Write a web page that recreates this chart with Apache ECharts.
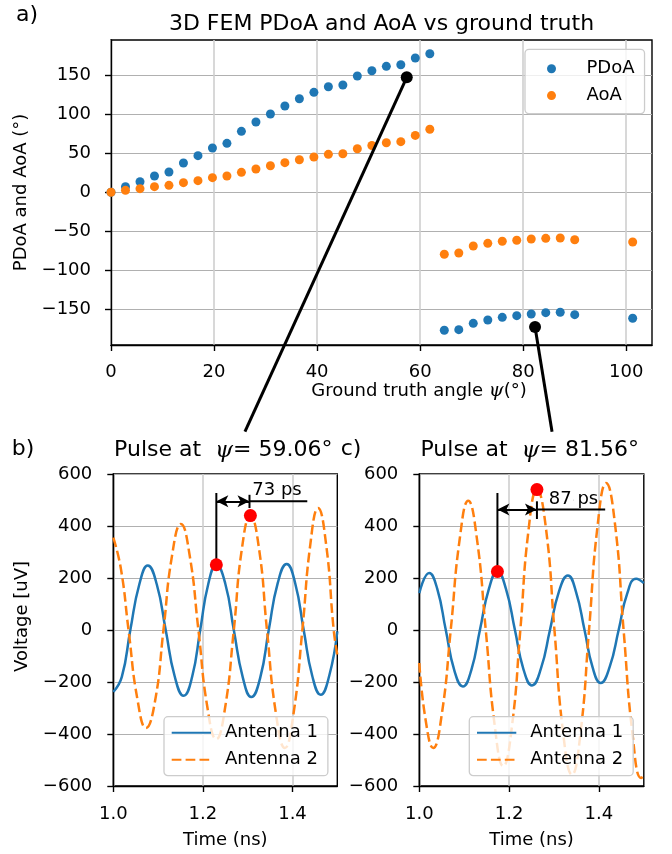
<!DOCTYPE html>
<html><head><meta charset="utf-8">
<script src="https://cdn.jsdelivr.net/npm/echarts@6/dist/echarts.min.js"></script>
<style>html,body{margin:0;padding:0;background:#fff}#c{width:672px;height:854px}</style>
</head><body><div id="c"></div>
<script>
// ---- Panel a data: ground truth angle vs PDoA / AoA ----
const psi  = [0, 2.81, 5.63, 8.44, 11.25, 14.06, 16.88, 19.69, 22.5, 25.31, 28.13, 30.94, 33.75, 36.56, 39.38, 42.19, 45, 47.81, 50.63, 53.44, 56.25, 59.06, 61.88, 64.69, 67.5, 70.31, 73.13, 75.94, 78.75, 81.56, 84.38, 87.19, 90, 101.25];
const pdoa = [0, 7.2, 13.6, 20.9, 26, 37.6, 47, 56.8, 62.8, 78.2, 90.1, 100.4, 110.6, 120, 128.2, 135.4, 137.6, 149.1, 155.9, 161.5, 163.6, 172.2, 177.7, -176.9, -176.1, -168, -163.7, -160.3, -158.2, -156, -154.3, -153.8, -156.9, -161.5];
const aoa  = [0, 2.5, 4.7, 7.2, 8.9, 12.4, 14.9, 18.8, 20.9, 25.6, 29.9, 34.1, 38, 41.8, 45.3, 48.7, 49.5, 55.9, 60, 63.6, 64.9, 73, 80.8, -79.5, -77.8, -68.8, -65.4, -62.8, -61.5, -59.9, -59, -58.6, -60.8, -63.7];
const pickTop = [[57.4, 147.4], [82.3, -172.7]];
const pickEnd = [[26.0, -307], [85.6, -307]];
const topXTicks = [0, 20, 40, 60, 80, 100];
const topYTicks = [-150, -100, -50, 0, 50, 100, 150];

// ---- Panel b: pulse at psi = 59.06 deg ----
const tB1 = [1.000, 1.019, 1.038, 1.058, 1.077, 1.097, 1.117, 1.137, 1.157, 1.176, 1.194, 1.212, 1.230, 1.250, 1.269, 1.289, 1.308, 1.328, 1.347, 1.367, 1.387, 1.406, 1.425, 1.444, 1.463, 1.482, 1.500];
const vB1 = [-238, -180, 0, 175, 248, 176, 0, -178, -253, -180, 0, 177, 251, 178, 0, -182, -258, -183, 0, 180, 254, 180, 0, -176, -249, -176, -5];
const tB2 = [1.000, 1.017, 1.034, 1.054, 1.073, 1.093, 1.112, 1.131, 1.151, 1.170, 1.190, 1.210, 1.230, 1.249, 1.269, 1.287, 1.306, 1.325, 1.343, 1.363, 1.383, 1.402, 1.422, 1.440, 1.457, 1.475, 1.492, 1.500];
const vB2 = [355, 235, 0, -268, -377, -275, 0, 285, 408, 292, 0, -297, -420, -305, 0, 312, 440, 316, 0, -321, -454, -325, 0, 332, 469, 330, 0, -95];
const peaksB = [[1.230, 251], [1.306, 440]];

// ---- Panel c: pulse at psi = 81.56 deg ----
const tC1 = [1.000, 1.022, 1.040, 1.059, 1.078, 1.097, 1.116, 1.135, 1.155, 1.174, 1.193, 1.213, 1.232, 1.251, 1.271, 1.291, 1.311, 1.331, 1.349, 1.368, 1.386, 1.404, 1.424, 1.444, 1.463, 1.483, 1.500];
const vC1 = [142, 219, 158, 0, -155, -217, -153, 0, 158, 225, 158, 0, -151, -213, -148, 0, 148, 210, 147, 0, -144, -204, -142, 0, 140, 197, 180];
const tC2 = [1.000, 1.014, 1.031, 1.050, 1.070, 1.090, 1.109, 1.128, 1.148, 1.168, 1.187, 1.206, 1.225, 1.243, 1.262, 1.282, 1.301, 1.320, 1.340, 1.359, 1.378, 1.397, 1.416, 1.436, 1.455, 1.475, 1.494, 1.500];
const vC2 = [-127, -345, -454, -325, 0, 350, 497, 355, 0, -368, -524, -375, 0, 380, 540, 392, 0, -390, -556, -397, 0, 400, 565, 405, 0, -402, -569, -562];
const peaksC = [[1.174, 225], [1.262, 540]];

const timeTicks = [1.0, 1.2, 1.4];
const voltTicks = [-600, -400, -200, 0, 200, 400, 600];

// annotation geometry in data units
const annB = {x1: 1.230, x2: 1.304, yArrow: 495, tickTop: 520, tickBot: 469, extEnd: 1.433, vTop: 527, label: '73 ps', labelPos: [1.366, 537]};
const annC = {x1: 1.174, x2: 1.262, yArrow: 463, tickTop: 495, tickBot: 427, extEnd: 1.414, vTop: 527, label: '87 ps', labelPos: [1.344, 500]};

const FONT = 'DejaVu Sans';
const BLUE = '#1f77b4', ORANGE = '#ff7f0e';
const minus = v => String(v).replace('-', '\u2212');
const zip = (a, b) => a.map((x, i) => [x, b[i]]);

function mkAxis(o) {
  return {
    type: 'value', gridIndex: o.grid, min: o.min, max: o.max,
    axisLine: {show: true, onZero: false, lineStyle: {color: '#000', width: 1.4}},
    axisTick: {show: true, inside: false, length: 6, customValues: o.ticks, lineStyle: {color: '#000', width: 1.4}},
    axisLabel: {show: true, customValues: o.ticks, formatter: o.fmt, margin: o.margin, color: '#000', fontSize: 18, fontFamily: FONT},
    splitLine: {show: true, lineStyle: {color: o.gridColor || '#b0b0b0', width: o.gridWidth || 1.2}},
    name: o.name, nameLocation: 'middle', nameGap: o.nameGap, nameRotate: o.nameRotate, nameMoveOverlap: false,
    nameTextStyle: Object.assign({color: '#000', fontSize: 18, fontFamily: FONT}, o.nameStyle || {})
  };
}

const gridStyle = {show: true, borderColor: '#000', borderWidth: 1.4, backgroundColor: 'transparent', containLabel: false, outerBoundsMode: 'none'};

function annotSeries(ann, xi, peaks) {
  return [
    {type: 'line', xAxisIndex: xi, yAxisIndex: xi, data: [[ann.x1, peaks[0][1]], [ann.x1, ann.vTop]], symbol: 'none',
     lineStyle: {color: '#000', width: 2}, z: 4, silent: true,
     markLine: {silent: true, symbol: ['arrow', 'arrow'], symbolSize: [9, 12], label: {show: false},
       lineStyle: {color: '#000', width: 2, type: 'solid'}, animation: false,
       data: [[{coord: [ann.x1, ann.yArrow]}, {coord: [ann.x2, ann.yArrow]}]]}},
    {type: 'line', xAxisIndex: xi, yAxisIndex: xi, data: [[ann.x2, ann.tickTop], [ann.x2, ann.tickBot]], symbol: 'none',
     lineStyle: {color: '#000', width: 2}, z: 4, silent: true},
    {type: 'line', xAxisIndex: xi, yAxisIndex: xi, data: [[ann.x2, ann.yArrow], [ann.extEnd, ann.yArrow]], symbol: 'none',
     lineStyle: {color: '#000', width: 2}, z: 4, silent: true},
    {type: 'scatter', xAxisIndex: xi, yAxisIndex: xi, data: [ann.labelPos], symbolSize: 0.5, itemStyle: {color: '#000', opacity: 1},
     label: {show: true, position: [0, 0], align: 'center', verticalAlign: 'middle', formatter: ann.label, color: '#000', opacity: 1,
       textBorderWidth: 0, fontSize: 18, fontFamily: FONT}, z: 6, silent: true},
    {type: 'scatter', xAxisIndex: xi, yAxisIndex: xi, data: peaks, symbolSize: 13, itemStyle: {color: '#ff0000', opacity: 1}, z: 8, silent: true}
  ];
}

function waveSeries(name, t, v, xi, color, dashed) {
  return {type: 'line', name: name, xAxisIndex: xi, yAxisIndex: xi, data: zip(t, v), smooth: true, symbol: 'none', showSymbol: false,
    lineStyle: {color: color, width: 2.5, type: dashed ? [9.7, 4.2] : 'solid'}, itemStyle: {color: color}, z: 3};
}

const option = {
  animation: false,
  backgroundColor: '#fff',
  textStyle: {fontFamily: FONT},
  grid: [
    Object.assign({left: 111, top: 40, width: 541, height: 305}, gridStyle),
    Object.assign({left: 113.3, top: 474, width: 224, height: 312}, gridStyle),
    Object.assign({left: 419.3, top: 474, width: 224.5, height: 312}, gridStyle)
  ],
  xAxis: [
    mkAxis({grid: 0, min: 0, max: 105, ticks: topXTicks, fmt: minus, margin: 18, gridColor: '#cfcfcf', gridWidth: 1.6,
      name: '{a|Ground truth angle }{p|ψ}{a|(°)}', nameGap: 37,
      nameStyle: {padding: [0, 0, 0, 75], rich: {a: {fontSize: 18, fontFamily: FONT, color: '#000'}, p: {fontSize: 19, fontFamily: 'DejaVu Serif', fontStyle: 'italic', color: '#000'}}}}),
    mkAxis({grid: 1, min: 1.0, max: 1.5, ticks: timeTicks, fmt: v => v.toFixed(1), margin: 19, gridColor: '#cfcfcf', gridWidth: 1.6, name: 'Time (ns)', nameGap: 45}),
    mkAxis({grid: 2, min: 1.0, max: 1.5, ticks: timeTicks, fmt: v => v.toFixed(1), margin: 19, gridColor: '#cfcfcf', gridWidth: 1.6, name: 'Time (ns)', nameGap: 45})
  ],
  yAxis: [
    mkAxis({grid: 0, min: -195.8, max: 195.3, ticks: topYTicks, fmt: minus, margin: 20, name: 'PDoA and AoA (°)', nameGap: 81, nameRotate: 90}),
    mkAxis({grid: 1, min: -600, max: 600, ticks: voltTicks, fmt: minus, margin: 21, name: 'Voltage [uV]', nameGap: 82, nameRotate: 90, nameStyle: {padding: [0, 0, 0, 27]}}),
    mkAxis({grid: 2, min: -600, max: 600, ticks: voltTicks, fmt: minus, margin: 21, name: '', nameGap: 82})
  ],
  legend: [
    {data: ['PDoA', 'AoA'], orient: 'vertical', left: 525, top: 49.3, icon: 'circle', itemWidth: 40, itemHeight: 9, itemGap: 8.8,
     padding: [10.5, 10, 9, 22], textStyle: {fontSize: 18, fontFamily: FONT, color: '#000', padding: [0, 0, 0, 10]},
     backgroundColor: 'rgba(255,255,255,0.8)', borderColor: '#cccccc', borderWidth: 1.3, borderRadius: 4, z: 10, selectedMode: false},
    {data: ['Antenna 1', 'Antenna 2'], orient: 'vertical', left: 164, top: 716.7, itemWidth: 39.3, itemHeight: 12, itemGap: 9,
     padding: [7, 10, 7, 6.7], textStyle: {fontSize: 18, fontFamily: FONT, color: '#000', padding: [0, 0, 0, 9]}, itemStyle: {opacity: 0},
     backgroundColor: 'rgba(255,255,255,0.8)', borderColor: '#cccccc', borderWidth: 1.3, borderRadius: 4, z: 10, selectedMode: false},
    {data: ['Antenna 1', 'Antenna 2'], orient: 'vertical', left: 469.3, top: 716.7, itemWidth: 39.3, itemHeight: 12, itemGap: 9,
     padding: [7, 10, 7, 6.7], textStyle: {fontSize: 18, fontFamily: FONT, color: '#000', padding: [0, 0, 0, 9]}, itemStyle: {opacity: 0},
     backgroundColor: 'rgba(255,255,255,0.8)', borderColor: '#cccccc', borderWidth: 1.3, borderRadius: 4, z: 10, selectedMode: false}
  ],
  graphic: [
    {type: 'text', x: 27, y: 15.4, style: {text: 'a)', font: '22px "DejaVu Sans"', fill: '#000', align: 'center', verticalAlign: 'middle'}},
    {type: 'text', x: 381.5, y: 24.4, style: {text: '3D FEM PDoA and AoA vs ground truth', font: '22px "DejaVu Sans"', fill: '#000', align: 'center', verticalAlign: 'middle'}},
    {type: 'text', x: 23, y: 449, style: {text: 'b)', font: '22px "DejaVu Sans"', fill: '#000', align: 'center', verticalAlign: 'middle'}},
    {type: 'text', x: 351, y: 449, style: {text: 'c)', font: '22px "DejaVu Sans"', fill: '#000', align: 'center', verticalAlign: 'middle'}},
    {type: 'text', x: 223.3, y: 450.7, style: {text: '{a|Pulse at  }{p|ψ}{a|= 59.06°}', align: 'center', verticalAlign: 'middle',
      rich: {a: {font: '22px "DejaVu Sans"', fill: '#000'}, p: {font: 'italic 23px "DejaVu Serif"', fill: '#000'}}}},
    {type: 'text', x: 529.7, y: 450.7, style: {text: '{a|Pulse at  }{p|ψ}{a|= 81.56°}', align: 'center', verticalAlign: 'middle',
      rich: {a: {font: '22px "DejaVu Sans"', fill: '#000'}, p: {font: 'italic 23px "DejaVu Serif"', fill: '#000'}}}}
  ],
  series: [
    {type: 'scatter', name: 'PDoA', xAxisIndex: 0, yAxisIndex: 0, data: zip(psi, pdoa), symbolSize: 9, itemStyle: {color: BLUE, opacity: 1}, z: 2},
    {type: 'scatter', name: 'AoA', xAxisIndex: 0, yAxisIndex: 0, data: zip(psi, aoa), symbolSize: 9, itemStyle: {color: ORANGE, opacity: 1}, z: 2},
    ...pickTop.map((p, i) => ({type: 'line', xAxisIndex: 0, yAxisIndex: 0, clip: false, silent: true, z: 5,
      data: [{value: p, symbol: 'circle', symbolSize: 12}, {value: pickEnd[i], symbol: 'none'}],
      showSymbol: true, lineStyle: {color: '#000', width: 3}, itemStyle: {color: '#000'}})),
    waveSeries('Antenna 1', tB1, vB1, 1, BLUE, false),
    waveSeries('Antenna 2', tB2, vB2, 1, ORANGE, true),
    ...annotSeries(annB, 1, peaksB),
    waveSeries('Antenna 1', tC1, vC1, 2, BLUE, false),
    waveSeries('Antenna 2', tC2, vC2, 2, ORANGE, true),
    ...annotSeries(annC, 2, peaksC)
  ]
};

const chart = echarts.init(document.getElementById('c'), null, {renderer: 'canvas', width: 672, height: 854});
chart.setOption(option);
</script>
</body></html>
